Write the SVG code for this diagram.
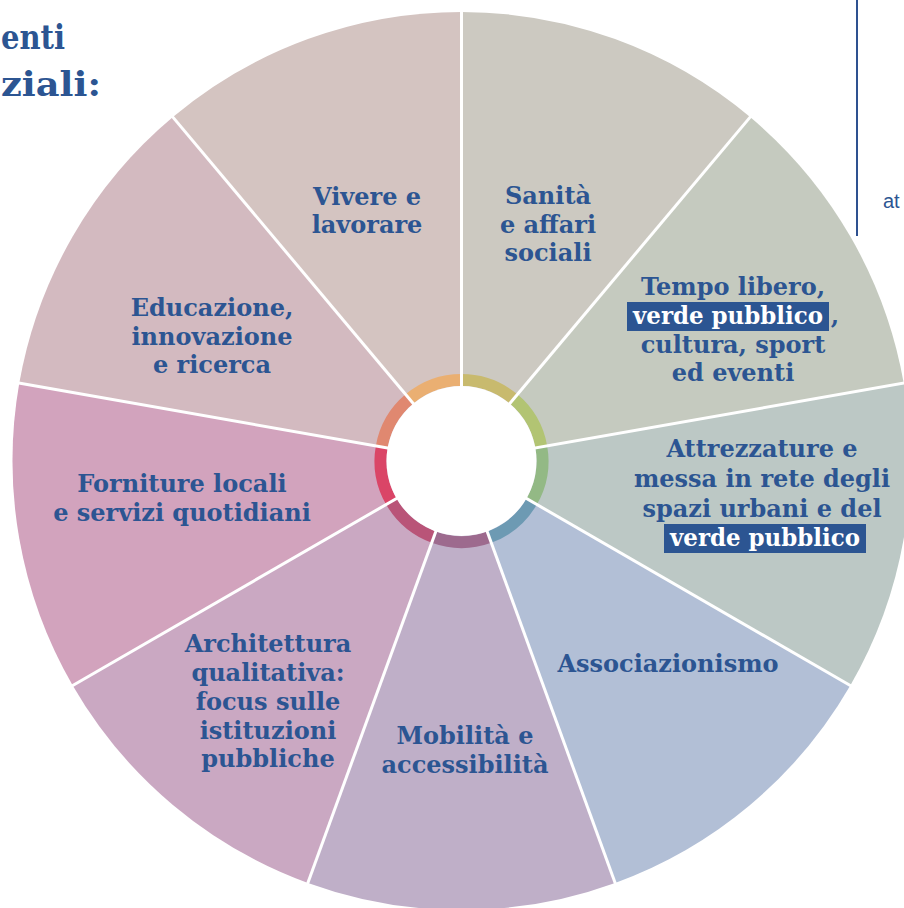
<svg xmlns="http://www.w3.org/2000/svg" width="904" height="908" viewBox="0 0 904 908">
<style>
.lbl{font-family:"DejaVu Serif","Liberation Serif",serif;font-weight:bold;font-size:24px;fill:#2C5592;text-anchor:middle}
.hl{fill:#ffffff}
.box{fill:#2C5592}
.ring{fill:none;stroke-width:12}
.sep{stroke:#ffffff;stroke-width:3;fill:none}
.title{font-family:"DejaVu Serif","Liberation Serif",serif;font-weight:bold;font-size:34px;fill:#2C5592}
</style>
<rect width="904" height="908" fill="#ffffff"/>
<g id="title">
<text class="title" x="1" y="49" textLength="64" lengthAdjust="spacingAndGlyphs">enti</text>
<text class="title" x="1" y="96" textLength="100" lengthAdjust="spacingAndGlyphs">ziali:</text>
</g>
<g id="side-note">
<line x1="857" y1="0" x2="857" y2="236" stroke="#2E5190" stroke-width="2"/>
<text x="883" y="208" font-family="Liberation Sans, Arial, sans-serif" font-size="20" fill="#2C5592">at</text>
</g>
<g id="sector-vivere">
<path d="M461.5 461 L172.9 117.1 A449 449 0 0 1 461.5 12 Z" fill="#D4C4C1"/>
<path class="ring" d="M409.43 398.95 A81 81 0 0 1 461.5 380" stroke="#EAAF72"/>
<text class="lbl" x="367" y="205">Vivere e</text>
<text class="lbl" x="367" y="233">lavorare</text>
</g>
<g id="sector-sanita">
<path d="M461.5 461 L461.5 12 A449 449 0 0 1 750.1 117.1 Z" fill="#CCC9C1"/>
<path class="ring" d="M461.5 380 A81 81 0 0 1 513.57 398.95" stroke="#C8BA6E"/>
<text class="lbl" x="548" y="204">Sanità</text>
<text class="lbl" x="548" y="233">e affari</text>
<text class="lbl" x="548" y="261">sociali</text>
</g>
<g id="sector-tempo-libero">
<path d="M461.5 461 L750.1 117.1 A449 449 0 0 1 903.7 383.1 Z" fill="#C5CABF"/>
<path class="ring" d="M513.57 398.95 A81 81 0 0 1 541.27 446.94" stroke="#B2C473"/>
<text class="lbl" x="733" y="295">Tempo libero,</text>
<rect class="box" x="627" y="302" width="202" height="29"/>
<text class="lbl hl" x="728" y="324" textLength="190" lengthAdjust="spacingAndGlyphs">verde pubblico</text>
<text class="lbl" x="835" y="324">,</text>
<text class="lbl" x="733" y="353">cultura, sport</text>
<text class="lbl" x="733" y="381">ed eventi</text>
</g>
<g id="sector-attrezzature">
<path d="M461.5 461 L903.7 383.1 A449 449 0 0 1 850.3 685.5 Z" fill="#BCC8C5"/>
<path class="ring" d="M541.27 446.94 A81 81 0 0 1 531.65 501.5" stroke="#93B985"/>
<text class="lbl" x="762" y="457">Attrezzature e</text>
<text class="lbl" x="762" y="487">messa in rete degli</text>
<text class="lbl" x="762" y="517">spazi urbani e del</text>
<rect class="box" x="664" y="524" width="202" height="29"/>
<text class="lbl hl" x="765" y="546" textLength="190" lengthAdjust="spacingAndGlyphs">verde pubblico</text>
</g>
<g id="sector-associazionismo">
<path d="M461.5 461 L850.3 685.5 A449 449 0 0 1 615.1 882.9 Z" fill="#B2BFD6"/>
<path class="ring" d="M531.65 501.5 A81 81 0 0 1 489.2 537.12" stroke="#6D9AB3"/>
<text class="lbl" x="668" y="672">Associazionismo</text>
</g>
<g id="sector-mobilita">
<path d="M461.5 461 L615.1 882.9 A449 449 0 0 1 307.9 882.9 Z" fill="#BFAFC8"/>
<path class="ring" d="M489.2 537.12 A81 81 0 0 1 433.8 537.12" stroke="#9D6A8E"/>
<text class="lbl" x="465" y="744">Mobilità e</text>
<text class="lbl" x="465" y="773">accessibilità</text>
</g>
<g id="sector-architettura">
<path d="M461.5 461 L307.9 882.9 A449 449 0 0 1 72.7 685.5 Z" fill="#CAA8C2"/>
<path class="ring" d="M433.8 537.12 A81 81 0 0 1 391.35 501.5" stroke="#B95478"/>
<text class="lbl" x="268" y="652">Architettura</text>
<text class="lbl" x="268" y="681">qualitativa:</text>
<text class="lbl" x="268" y="710">focus sulle</text>
<text class="lbl" x="268" y="739">istituzioni</text>
<text class="lbl" x="268" y="767">pubbliche</text>
</g>
<g id="sector-forniture">
<path d="M461.5 461 L72.7 685.5 A449 449 0 0 1 19.3 383.1 Z" fill="#D2A3BD"/>
<path class="ring" d="M391.35 501.5 A81 81 0 0 1 381.73 446.94" stroke="#DA4567"/>
<text class="lbl" x="182" y="492">Forniture locali</text>
<text class="lbl" x="182" y="521">e servizi quotidiani</text>
</g>
<g id="sector-educazione">
<path d="M461.5 461 L19.3 383.1 A449 449 0 0 1 172.9 117.1 Z" fill="#D3BAC0"/>
<path class="ring" d="M381.73 446.94 A81 81 0 0 1 409.43 398.95" stroke="#E08870"/>
<text class="lbl" x="212" y="316">Educazione,</text>
<text class="lbl" x="212" y="345">innovazione</text>
<text class="lbl" x="212" y="373">e ricerca</text>
</g>
<g id="separators">
<line class="sep" x1="461.5" y1="461" x2="461.5" y2="10"/>
<line class="sep" x1="461.5" y1="461" x2="751.4" y2="115.6"/>
<line class="sep" x1="461.5" y1="461" x2="905.7" y2="382.7"/>
<line class="sep" x1="461.5" y1="461" x2="852" y2="686.5"/>
<line class="sep" x1="461.5" y1="461" x2="615.8" y2="884.8"/>
<line class="sep" x1="461.5" y1="461" x2="307.2" y2="884.8"/>
<line class="sep" x1="461.5" y1="461" x2="71" y2="686.5"/>
<line class="sep" x1="461.5" y1="461" x2="17.3" y2="382.7"/>
<line class="sep" x1="461.5" y1="461" x2="171.6" y2="115.6"/>
</g>
<circle id="hub" cx="461.5" cy="461" r="75" fill="#ffffff"/>
</svg>
